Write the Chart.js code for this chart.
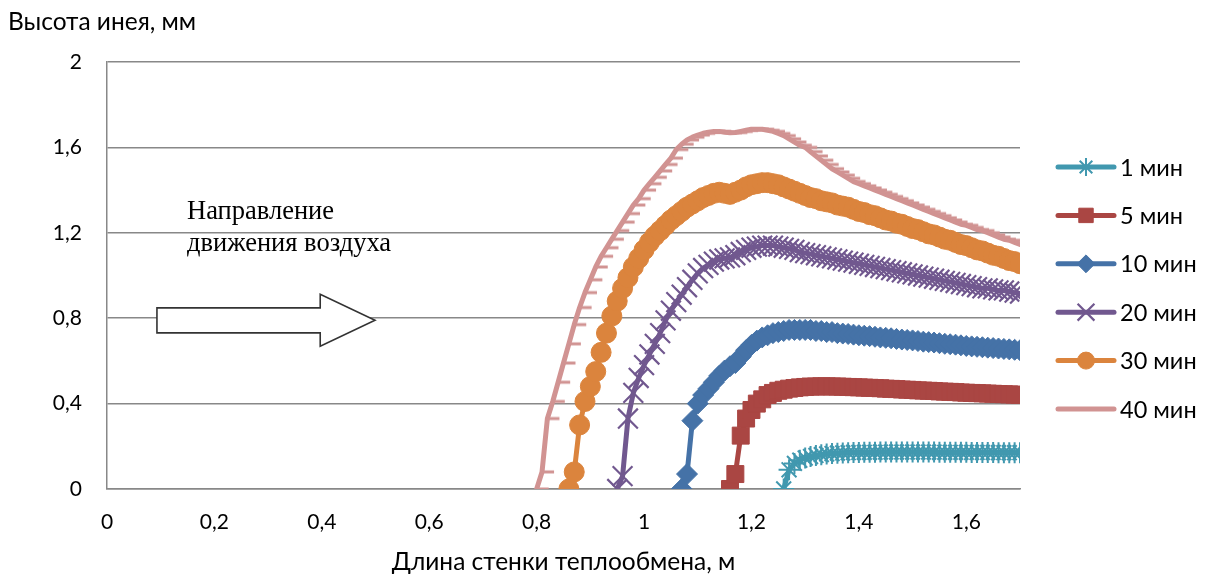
<!DOCTYPE html>
<html>
<head>
<meta charset="utf-8">
<script src="https://cdn.jsdelivr.net/npm/chart.js@4.4.1/dist/chart.umd.min.js"></script>
<style>
  html, body { margin: 0; padding: 0; background: #fff; overflow: hidden; }
  canvas { display: block; }
</style>
</head>
<body>
<canvas id="frost" width="1212" height="577"></canvas>
<script>
// Length along the heat-exchange wall, m (shared grid; each series ends at 1.70)
const lengths = [
  0.80, 0.81, 0.82, 0.83, 0.84, 0.85, 0.86, 0.87, 0.88, 0.89,
  0.90, 0.91, 0.92, 0.93, 0.94, 0.95, 0.96, 0.97, 0.98, 0.99,
  1.00, 1.01, 1.02, 1.03, 1.04, 1.05, 1.06, 1.07, 1.08, 1.09,
  1.10, 1.11, 1.12, 1.13, 1.14, 1.15, 1.16, 1.17, 1.18, 1.19,
  1.20, 1.21, 1.22, 1.23, 1.24, 1.25, 1.26, 1.27, 1.28, 1.29,
  1.30, 1.31, 1.32, 1.33, 1.34, 1.35, 1.36, 1.37, 1.38, 1.39,
  1.40, 1.41, 1.42, 1.43, 1.44, 1.45, 1.46, 1.47, 1.48, 1.49,
  1.50, 1.51, 1.52, 1.53, 1.54, 1.55, 1.56, 1.57, 1.58, 1.59,
  1.60, 1.61, 1.62, 1.63, 1.64, 1.65, 1.66, 1.67, 1.68, 1.69,
  1.70
];

// Frost height, mm
const frost1min = [ // from 1.26 m
  0.00, 0.09, 0.12, 0.135, 0.145, 0.152, 0.157, 0.161, 0.164, 0.166,
  0.168, 0.169, 0.170, 0.171, 0.171, 0.172, 0.172, 0.172, 0.173, 0.173,
  0.173, 0.173, 0.173, 0.173, 0.173, 0.173, 0.173, 0.173, 0.173, 0.172,
  0.172, 0.172, 0.172, 0.172, 0.172, 0.171, 0.171, 0.171, 0.171, 0.171,
  0.170, 0.170, 0.170, 0.170, 0.170
];
const frost5min = [ // from 1.16 m
  0.00, 0.07, 0.25, 0.33, 0.37, 0.40, 0.42, 0.44, 0.45, 0.46,
  0.465, 0.47, 0.473, 0.476, 0.478, 0.480, 0.480, 0.481, 0.481, 0.480,
  0.480, 0.479, 0.478, 0.477, 0.476, 0.475, 0.474, 0.473, 0.472, 0.470,
  0.469, 0.468, 0.466, 0.465, 0.464, 0.462, 0.461, 0.460, 0.459, 0.457,
  0.456, 0.455, 0.454, 0.452, 0.451, 0.450, 0.449, 0.448, 0.447, 0.446,
  0.445, 0.444, 0.443, 0.442, 0.441
];
const frost10min = [ // from 1.07 m
  0.00, 0.07, 0.32, 0.40, 0.44, 0.47, 0.50, 0.53, 0.555, 0.575,
  0.59, 0.62, 0.65, 0.675, 0.695, 0.71, 0.72, 0.73, 0.735, 0.74,
  0.745, 0.745, 0.745, 0.745, 0.745, 0.74, 0.74, 0.735, 0.735, 0.73,
  0.728, 0.726, 0.723, 0.720, 0.718, 0.716, 0.713, 0.710, 0.708, 0.706,
  0.703, 0.700, 0.698, 0.696, 0.693, 0.690, 0.688, 0.686, 0.683, 0.680,
  0.678, 0.676, 0.673, 0.670, 0.668, 0.666, 0.664, 0.662, 0.660, 0.658,
  0.656, 0.654, 0.652, 0.650
];
const frost20min = [ // from 0.95 m
  0.00, 0.06, 0.33, 0.45, 0.52, 0.58, 0.63, 0.68, 0.73, 0.79,
  0.835, 0.875, 0.91, 0.945, 0.98, 1.01, 1.035, 1.05, 1.065, 1.075,
  1.08, 1.085, 1.095, 1.11, 1.12, 1.13, 1.135, 1.14, 1.14, 1.14,
  1.135, 1.13, 1.125, 1.12, 1.11, 1.105, 1.10, 1.095, 1.09, 1.085,
  1.08, 1.075, 1.07, 1.065, 1.06, 1.055, 1.05, 1.045, 1.04, 1.035,
  1.03, 1.025, 1.02, 1.015, 1.01, 1.005, 1.00, 0.995, 0.99, 0.985,
  0.98, 0.975, 0.97, 0.965, 0.96, 0.955, 0.95, 0.945, 0.94, 0.94,
  0.935, 0.93, 0.93, 0.925, 0.92, 0.915
];
const frost30min = [ // from 0.86 m
  0.00, 0.08, 0.30, 0.41, 0.48, 0.55, 0.64, 0.73, 0.81, 0.88,
  0.94, 0.99, 1.04, 1.08, 1.12, 1.155, 1.185, 1.21, 1.235, 1.26,
  1.28, 1.30, 1.32, 1.335, 1.35, 1.365, 1.375, 1.385, 1.39, 1.385,
  1.38, 1.39, 1.40, 1.415, 1.425, 1.43, 1.435, 1.435, 1.43, 1.425,
  1.415, 1.405, 1.395, 1.385, 1.375, 1.365, 1.36, 1.35, 1.345, 1.34,
  1.33, 1.325, 1.32, 1.31, 1.30, 1.295, 1.285, 1.28, 1.27, 1.26,
  1.255, 1.245, 1.24, 1.23, 1.22, 1.215, 1.205, 1.195, 1.19, 1.18,
  1.17, 1.165, 1.155, 1.145, 1.14, 1.13, 1.12, 1.115, 1.105, 1.095,
  1.09, 1.08, 1.07, 1.065, 1.055
];
const frost40min = [ // from 0.80 m
  0.00, 0.08, 0.33, 0.41, 0.50, 0.59, 0.68, 0.77, 0.85, 0.92,
  0.98, 1.04, 1.09, 1.13, 1.17, 1.21, 1.25, 1.29, 1.33, 1.36,
  1.40, 1.43, 1.46, 1.49, 1.52, 1.55, 1.59, 1.615, 1.635, 1.648,
  1.658, 1.666, 1.671, 1.675, 1.675, 1.671, 1.669, 1.670, 1.675, 1.680,
  1.685, 1.685, 1.685, 1.68, 1.675, 1.665, 1.655, 1.64, 1.625, 1.61,
  1.60, 1.58, 1.56, 1.54, 1.52, 1.50, 1.485, 1.47, 1.455, 1.44,
  1.43, 1.42, 1.41, 1.40, 1.39, 1.38, 1.37, 1.36, 1.35, 1.34,
  1.33, 1.32, 1.31, 1.30, 1.29, 1.28, 1.27, 1.26, 1.25, 1.24,
  1.235, 1.225, 1.215, 1.21, 1.20, 1.19, 1.18, 1.17, 1.165, 1.155,
  1.145
];

const seriesNames = ['1 мин', '5 мин', '10 мин', '20 мин', '30 мин', '40 мин'];
const seriesValues = [frost1min, frost5min, frost10min, frost20min, frost30min, frost40min];

const xTicks = [0, 0.2, 0.4, 0.6, 0.8, 1.0, 1.2, 1.4, 1.6];
const yTicks = [0, 0.4, 0.8, 1.2, 1.6, 2.0];

const FONT = 'Lato, "Noto Sans", sans-serif';

// Short dash marker, drawn from the point towards the right
function dashMarker(color) {
  const c = document.createElement('canvas');
  c.width = 26; c.height = 6;
  const g = c.getContext('2d');
  g.strokeStyle = color;
  g.lineWidth = 3;
  g.beginPath();
  g.moveTo(13, 3);
  g.lineTo(25, 3);
  g.stroke();
  return c;
}

const styles = [
  { color: '#4198AF', pointStyle: 'star',     radius: 10.5, bw: 2 },
  { color: '#AA4643', pointStyle: 'rect',     radius: 12,   bw: 1 },
  { color: '#4572A7', pointStyle: 'rectRot',  radius: 10.5, bw: 1 },
  { color: '#71588F', pointStyle: 'crossRot', radius: 14,   bw: 2.2 },
  { color: '#DB843D', pointStyle: 'circle',   radius: 10,   bw: 1 },
  { color: '#D19392', pointStyle: null,       radius: 13,   bw: 0 }
];
styles[5].pointStyle = dashMarker(styles[5].color);

const datasets = seriesValues.map((ys, k) => {
  const off = lengths.length - ys.length;
  const st = styles[k];
  return {
    label: seriesNames[k],
    data: ys.map((y, i) => ({ x: lengths[off + i], y: y })),
    borderColor: st.color,
    backgroundColor: st.color,
    borderWidth: 5,
    borderCapStyle: 'round',
    borderJoinStyle: 'round',
    pointStyle: st.pointStyle,
    pointRadius: st.radius,
    pointBorderWidth: st.bw,
    pointBorderColor: st.color,
    pointBackgroundColor: st.color,
    pointHoverRadius: st.radius,
    tension: 0,
    order: seriesNames.length - k
  };
});

function fmt(v) {
  return String(Math.round(v * 10) / 10).replace('.', ',');
}

// Legend, axis caption and the airflow note
const decor = {
  id: 'decor',
  afterDraw(chart) {
    const ctx = chart.ctx;
    const xs = chart.scales.x, ys = chart.scales.y;
    ctx.save();

    // Y axis caption
    ctx.fillStyle = '#000';
    ctx.font = '24.5px ' + FONT;
    ctx.textAlign = 'left';
    ctx.textBaseline = 'middle';
    ctx.fillText('Высота инея, мм', 8, 22);

    // Airflow direction note
    ctx.font = '26.5px "Liberation Serif", "Times New Roman", serif';
    ctx.textBaseline = 'alphabetic';
    const tx = xs.getPixelForValue(0.149);
    const ty = ys.getPixelForValue(1.265);
    ctx.fillText('Направление', tx, ty);
    ctx.fillText('движения воздуха', tx, ty + 32);

    // Block arrow
    const ax0 = xs.getPixelForValue(0.093);
    const axh = xs.getPixelForValue(0.397);
    const ax1 = xs.getPixelForValue(0.499);
    const ay = ys.getPixelForValue(0.79);
    ctx.beginPath();
    ctx.moveTo(ax0, ay - 12.5);
    ctx.lineTo(axh, ay - 12.5);
    ctx.lineTo(axh, ay - 26);
    ctx.lineTo(ax1, ay);
    ctx.lineTo(axh, ay + 26);
    ctx.lineTo(axh, ay + 12.5);
    ctx.lineTo(ax0, ay + 12.5);
    ctx.closePath();
    ctx.fillStyle = '#fff';
    ctx.fill();
    ctx.strokeStyle = '#333';
    ctx.lineWidth = 1.6;
    ctx.lineJoin = 'miter';
    ctx.stroke();

    // Legend
    const lx0 = 1058, lx1 = 1114, ltx = 1120;
    chart.data.datasets.forEach((ds, i) => {
      const y = 167 + i * 48.4;
      ctx.strokeStyle = ds.borderColor;
      ctx.lineWidth = ds.borderWidth;
      ctx.lineCap = 'round';
      ctx.beginPath();
      ctx.moveTo(lx0, y);
      ctx.lineTo(lx1, y);
      ctx.stroke();
      if (typeof ds.pointStyle === 'string') {
        ctx.fillStyle = ds.pointBackgroundColor;
        ctx.strokeStyle = ds.pointBorderColor;
        ctx.lineWidth = ds.pointBorderWidth;
        ctx.lineCap = 'butt';
        Chart.helpers.drawPoint(ctx, {
          pointStyle: ds.pointStyle,
          radius: ds.pointRadius * 0.85,
          borderWidth: ds.pointBorderWidth,
          rotation: 0
        }, (lx0 + lx1) / 2, y);
      }
      ctx.fillStyle = '#000';
      ctx.font = '23.5px ' + FONT;
      ctx.textAlign = 'left';
      ctx.textBaseline = 'middle';
      ctx.fillText(ds.label, ltx, y + 1);
    });
    ctx.restore();
  }
};

new Chart(document.getElementById('frost'), {
  type: 'line',
  data: { datasets },
  options: {
    responsive: false,
    animation: false,
    devicePixelRatio: 1,
    layout: { padding: { left: 0, right: 192, top: 62, bottom: 0 } },
    plugins: {
      legend: { display: false },
      tooltip: { enabled: false }
    },
    scales: {
      x: {
        type: 'linear',
        min: 0,
        max: 1.7,
        afterFit(s) { s.height = 88; },
        afterBuildTicks(s) { s.ticks = xTicks.map(v => ({ value: v })); },
        grid: { display: false, drawTicks: false },
        border: { display: true, color: '#888', width: 1.5 },
        ticks: {
          padding: 21,
          color: '#000',
          font: { family: FONT, size: 21 },
          callback: v => fmt(v),
          maxRotation: 0
        },
        title: {
          display: true,
          text: 'Длина стенки теплообмена, м',
          color: '#000',
          font: { family: FONT, size: 24.5 },
          padding: { top: 0, bottom: 0 }
        }
      },
      y: {
        type: 'linear',
        min: 0,
        max: 2,
        afterFit(s) { s.width = 107; },
        afterBuildTicks(s) { s.ticks = yTicks.map(v => ({ value: v })); },
        grid: { color: '#888', lineWidth: 1.5, drawTicks: false },
        border: { display: true, color: '#888', width: 1.5 },
        ticks: {
          padding: 25,
          color: '#000',
          font: { family: FONT, size: 21 },
          callback: v => fmt(v)
        }
      }
    }
  },
  plugins: [decor]
});
</script>
</body>
</html>
